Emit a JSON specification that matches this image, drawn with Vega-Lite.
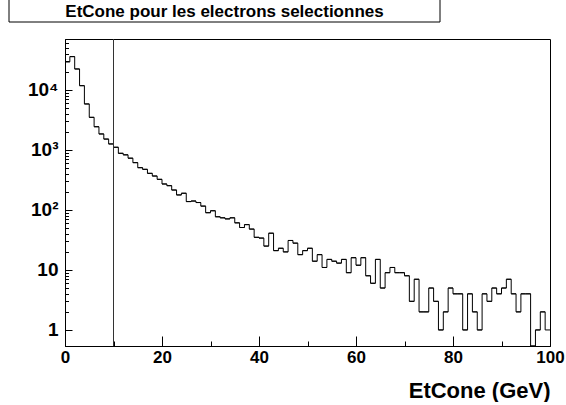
{
  "$schema": "https://vega.github.io/schema/vega-lite/v6.json",
  "padding": {"left": 8, "top": -2, "right": 0, "bottom": 0},
  "background": "white",
  "config": {
    "view": {"stroke": "black", "strokeWidth": 1},
    "font": "Liberation Sans"
  },
  "spacing": 6,
  "datasets": {
    "hist": [
      {"lo":0,"hi":1,"n":29500},{"lo":1,"hi":2,"n":36000},{"lo":2,"hi":3,"n":22400},{"lo":3,"hi":4,"n":11800},{"lo":4,"hi":5,"n":5850},
      {"lo":5,"hi":6,"n":3500},{"lo":6,"hi":7,"n":2440},{"lo":7,"hi":8,"n":1850},{"lo":8,"hi":9,"n":1520},{"lo":9,"hi":10,"n":1260},
      {"lo":10,"hi":11,"n":1110},{"lo":11,"hi":12,"n":880},{"lo":12,"hi":13,"n":830},{"lo":13,"hi":14,"n":730},{"lo":14,"hi":15,"n":615},
      {"lo":15,"hi":16,"n":507},{"lo":16,"hi":17,"n":476},{"lo":17,"hi":18,"n":408},{"lo":18,"hi":19,"n":368},{"lo":19,"hi":20,"n":324},
      {"lo":20,"hi":21,"n":271},{"lo":21,"hi":22,"n":254},{"lo":22,"hi":23,"n":215},{"lo":23,"hi":24,"n":178},{"lo":24,"hi":25,"n":190},
      {"lo":25,"hi":26,"n":138},{"lo":26,"hi":27,"n":141},{"lo":27,"hi":28,"n":133},{"lo":28,"hi":29,"n":116},{"lo":29,"hi":30,"n":90},
      {"lo":30,"hi":31,"n":97},{"lo":31,"hi":32,"n":77},{"lo":32,"hi":33,"n":74},{"lo":33,"hi":34,"n":71},{"lo":34,"hi":35,"n":74},
      {"lo":35,"hi":36,"n":61},{"lo":36,"hi":37,"n":51},{"lo":37,"hi":38,"n":57},{"lo":38,"hi":39,"n":48},{"lo":39,"hi":40,"n":35},
      {"lo":40,"hi":41,"n":34},{"lo":41,"hi":42,"n":25},{"lo":42,"hi":43,"n":41},{"lo":43,"hi":44,"n":21},{"lo":44,"hi":45,"n":23},
      {"lo":45,"hi":46,"n":20},{"lo":46,"hi":47,"n":31},{"lo":47,"hi":48,"n":28},{"lo":48,"hi":49,"n":18},{"lo":49,"hi":50,"n":21},
      {"lo":50,"hi":51,"n":23},{"lo":51,"hi":52,"n":14},{"lo":52,"hi":53,"n":18},{"lo":53,"hi":54,"n":11},{"lo":54,"hi":55,"n":15},
      {"lo":55,"hi":56,"n":14},{"lo":56,"hi":57,"n":13},{"lo":57,"hi":58,"n":15},{"lo":58,"hi":59,"n":9},{"lo":59,"hi":60,"n":16},
      {"lo":60,"hi":61,"n":12},{"lo":61,"hi":62,"n":16},{"lo":62,"hi":63,"n":8},{"lo":63,"hi":64,"n":6},{"lo":64,"hi":65,"n":15},
      {"lo":65,"hi":66,"n":5},{"lo":66,"hi":67,"n":9},{"lo":67,"hi":68,"n":11},{"lo":68,"hi":69,"n":9},{"lo":69,"hi":70,"n":9},
      {"lo":70,"hi":71,"n":8},{"lo":71,"hi":72,"n":3},{"lo":72,"hi":73,"n":7},{"lo":73,"hi":74,"n":2},{"lo":74,"hi":75,"n":2},
      {"lo":75,"hi":76,"n":5},{"lo":76,"hi":77,"n":3},{"lo":77,"hi":78,"n":1},{"lo":78,"hi":79,"n":2},{"lo":79,"hi":80,"n":5},
      {"lo":80,"hi":81,"n":4},{"lo":81,"hi":82,"n":4},{"lo":82,"hi":83,"n":1},{"lo":83,"hi":84,"n":4},{"lo":84,"hi":85,"n":2},
      {"lo":85,"hi":86,"n":1},{"lo":86,"hi":87,"n":4},{"lo":87,"hi":88,"n":3},{"lo":88,"hi":89,"n":5},{"lo":89,"hi":90,"n":4},
      {"lo":90,"hi":91,"n":5},{"lo":91,"hi":92,"n":7},{"lo":92,"hi":93,"n":4},{"lo":93,"hi":94,"n":2},{"lo":94,"hi":95,"n":4},
      {"lo":95,"hi":96,"n":4},{"lo":96,"hi":97,"n":0},{"lo":97,"hi":98,"n":1},{"lo":98,"hi":99,"n":2},{"lo":99,"hi":100,"n":1}
    ],
    "titletext": [{"label": "EtCone pour les electrons selectionnes"}],
    "cut": [{"etcone": 10}]
  },
  "vconcat": [
    {
      "width": 431,
      "height": 23,
      "data": {"name": "titletext"},
      "layer": [
        {
          "mark": {"type": "rect", "fill": "white", "stroke": "black", "strokeWidth": 1},
          "encoding": {}
        },
        {
          "mark": {"type": "text", "font": "Liberation Sans", "fontWeight": "bold", "fontSize": 17, "color": "black", "dy": 1.5},
          "encoding": {"text": {"field": "label"}}
        }
      ]
    },
    {
      "spacing": 0,
      "hconcat": [
        {
          "width": 1,
          "height": 1,
          "view": {"stroke": null},
          "data": {"name": "titletext"},
          "mark": {"type": "text", "opacity": 0},
          "encoding": {"text": {"value": ""}}
        },
        {
          "width": 485,
          "height": 307,
          "data": {"name": "hist"},
          "layer": [
            {
              "mark": {"type": "line", "interpolate": "step-after", "color": "black", "strokeWidth": 1, "invalid": "show"},
              "encoding": {
                "x": {
                  "field": "lo", "type": "quantitative",
                  "scale": {"domain": [0, 100], "nice": false, "zero": false},
                  "axis": {
                    "title": "EtCone (GeV)",
                    "values": [0, 10, 20, 30, 40, 50, 60, 70, 80, 90, 100],
                    "labelExpr": "datum.value % 20 === 0 ? datum.label : ''",
                    "tickSize": {"condition": {"test": "datum.value % 20 === 0", "value": -10}, "value": -5},
                    "tickColor": "black", "domainColor": "black", "grid": false,
                    "labelFont": "Liberation Sans", "labelFontWeight": "bold", "labelFontSize": 17, "labelColor": "black",
                    "labelPadding": 13.5, "labelFlush": false, "labelOverlap": false, "labelBound": false,
                    "titleFont": "Liberation Sans", "titleFontWeight": "bold", "titleFontSize": 22, "titleColor": "black",
                    "titleAnchor": "end", "titlePadding": 10
                  }
                },
                "y": {
                  "field": "n", "type": "quantitative",
                  "scale": {"type": "log", "domain": [0.54, 70800], "nice": false, "clamp": true},
                  "axis": {
                    "title": null,
                    "values": [1,2,3,4,5,6,7,8,9,10,20,30,40,50,60,70,80,90,100,200,300,400,500,600,700,800,900,1000,2000,3000,4000,5000,6000,7000,8000,9000,10000,20000,30000,40000,50000,60000,70000],
                    "labelExpr": "datum.value == 1 ? '1' : datum.value == 10 ? '10' : datum.value == 100 ? '10²' : datum.value == 1000 ? '10³' : datum.value == 10000 ? '10⁴' : ''",
                    "tickSize": {"condition": {"test": "datum.value == 1 || datum.value == 10 || datum.value == 100 || datum.value == 1000 || datum.value == 10000", "value": -7}, "value": -3.5},
                    "tickColor": "black", "domainColor": "black", "grid": false,
                    "labelFont": "Liberation Sans", "labelFontWeight": "bold", "labelFontSize": 19, "labelColor": "black",
                    "labelPadding": 14, "labelFlush": false, "labelOverlap": false, "labelBound": false,
                    "minExtent": 54
                  }
                }
              }
            },
            {
              "mark": {"type": "rule", "color": "black", "strokeWidth": 1, "invalid": "show"},
              "encoding": {
                "x": {"field": "lo", "type": "quantitative"},
                "x2": {"field": "hi"},
                "y": {"field": "n", "type": "quantitative"}
              }
            },
            {
              "data": {"name": "cut"},
              "mark": {"type": "rule", "color": "#333333", "strokeWidth": 1},
              "encoding": {"x": {"field": "etcone", "type": "quantitative"}}
            }
          ]
        }
      ]
    }
  ]
}
